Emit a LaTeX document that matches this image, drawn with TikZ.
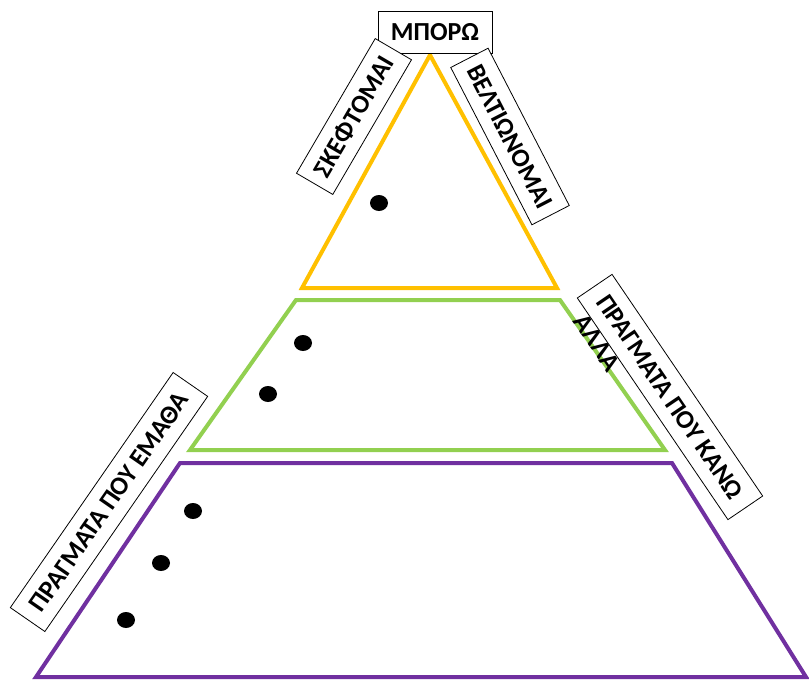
\documentclass[tikz,border=0pt]{standalone}
\usepackage{fontspec}
\setmainfont{Carlito}
\usetikzlibrary{shapes.geometric}
\definecolor{pyell}{HTML}{FFC000}
\definecolor{pgreen}{HTML}{92D050}
\definecolor{ppurple}{HTML}{7030A0}
\begin{document}
\begin{tikzpicture}[x=1pt,y=-1pt,
  lbl/.style={draw=black, line width=0.8pt, fill=white, font=\bfseries\fontsize{26}{30}\selectfont, inner sep=0pt, minimum height=42pt, align=center},
  plain/.style={font=\bfseries\fontsize{26}{30}\selectfont, inner sep=0pt},
  dot/.style={ellipse, fill=black, minimum width=18pt, minimum height=16pt, inner sep=0pt},
  level/.style={line width=4pt, line join=miter}]
\useasboundingbox (0,0) rectangle (809,680);
\draw[level, pyell] (430,55) -- (557,288) -- (302,288) -- cycle;
\draw[level, pgreen] (296,300) -- (560,300) -- (665,450) -- (190,450) -- cycle;
\draw[level, ppurple] (180,463) -- (672,463) -- (806,677) -- (36,677) -- cycle;
\node[lbl, minimum width=114pt] (mporo) at (435,32) {ΜΠΟΡΩ};
\node[lbl, minimum width=156pt, rotate=59.7] (skeft) at (354,116.5) {ΣΚΕΦΤΟΜΑΙ};
\node[lbl, minimum width=177pt, rotate=-62.7] (velt) at (510,136.5) {ΒΕΛΤΙΩΝΟΜΑΙ};
\node[lbl, minimum width=268pt, rotate=-55.8] (kano) at (670,397) {ΠΡΑΓΜΑΤΑ ΠΟΥ ΚΑΝΩ};
\node[lbl, minimum width=286pt, rotate=55.3] (emath) at (109,502) {ΠΡΑΓΜΑΤΑ ΠΟΥ ΕΜΑΘΑ};
\node[plain, rotate=-55.8] (alla) at (597,343) {ΆΛΛΑ};
\node[dot] (d1) at (379,203) {};
\node[dot] (d2) at (303,343) {};
\node[dot] (d3) at (268,394) {};
\node[dot] (d4) at (193,511) {};
\node[dot] (d5) at (161,563) {};
\node[dot] (d6) at (126,620) {};
\end{tikzpicture}
\end{document}
